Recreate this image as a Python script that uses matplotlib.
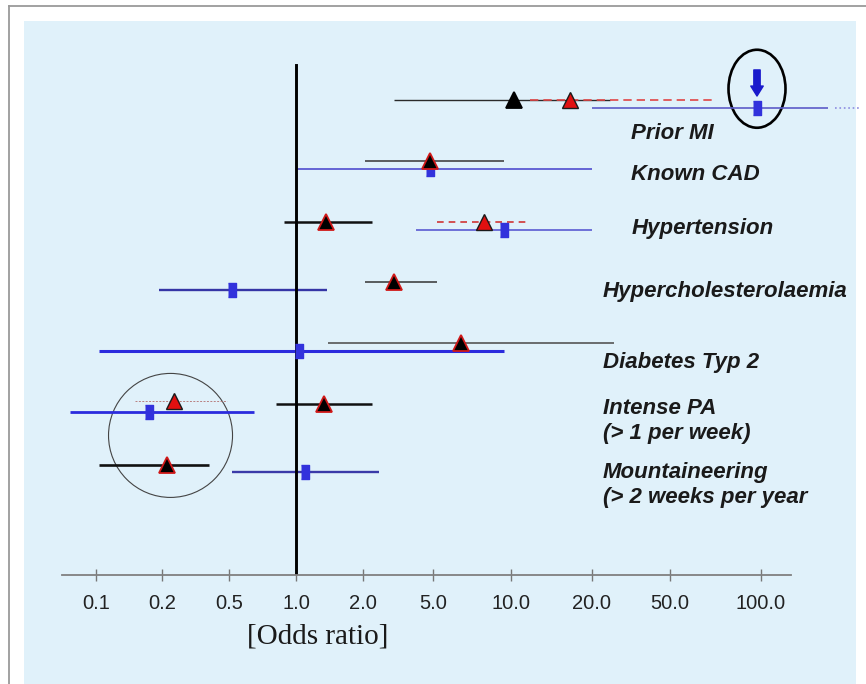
import numpy as np
import matplotlib
matplotlib.use("Agg")
import matplotlib.pyplot as plt
from matplotlib import font_manager, transforms
from matplotlib.patches import Rectangle, Ellipse, Circle
from matplotlib.lines import Line2D
from matplotlib.ticker import NullLocator

# rows, top to bottom
categories = ["Prior MI", "Known CAD", "Hypertension", "Hypercholesterolaemia",
              "Diabetes Typ 2", "Intense PA\n(> 1 per week)",
              "Mountaineering\n(> 2 weeks per year"]

# black series (odds ratio, 95% CI)
black_or = [10.3, 4.8, 1.36, 3.0, 6.4, 1.34, 0.214]
black_lo = [3.0, 2.05, 0.88, 2.05, 1.39, 0.81, 0.103]
black_hi = [24.7, 9.4, 2.25, 5.2, 25.9, 2.25, 0.38]

# red series (dashed)
nan = np.nan
red_or = [16.6, nan, 7.9, nan, nan, 0.236, nan]
red_lo = [11.8, nan, 5.2, nan, nan, 0.151, nan]
red_hi = [70.0, nan, 11.6, nan, nan, 0.486, nan]

# blue series
blue_or = [97.0, 4.8, 9.4, 0.516, 1.03, 0.175, 1.10]
blue_lo = [20.1, 1.01, 4.0, 0.194, 0.103, 0.076, 0.516]
blue_hi = [166.0, 20.1, 20.1, 1.38, 9.4, 0.647, 2.47]
blue_open_end = (176.0, 212.0)   # dotted continuation, Prior MI

tick_vals = [0.1, 0.2, 0.5, 1, 2, 5, 10, 20, 50, 100]
tick_labels = ["0.1", "0.2", "0.5", "1.0", "2.0", "5.0", "10.0", "20.0", "50.0", "100.0"]
# the original axis is not a true log axis, spacing of the ticks in px
tick_pos = [96, 162, 229, 296, 363, 433, 511, 592, 670, 761]

# styles per row
black_style = [("#2a2a2a", 1.0), ("#444444", 1.2), ("#111111", 1.8), ("#333333", 1.1),
               ("#555555", 1.2), ("#111111", 1.8), ("#111111", 1.9)]
blue_style = [("#5c5cc8", 1.2), ("#5a5ad2", 1.3), ("#5a5ad2", 1.2), ("#3535a5", 1.7),
              ("#2b2bdd", 2.2), ("#2b2bdd", 2.0), ("#3a3aa8", 1.7)]
red_style = [("#e04545", 1.2, (5, 3)), None, ("#d03535", 1.2, (4, 3)), None, None,
             ("#b88080", 0.7, (2, 1.5)), None]
red_dy = [0, 0, 0, 0, 0, -0.05, 0]
blue_dy = 0.13
label_x = [0.781, 0.781, 0.781, 0.742, 0.742, 0.742, 0.742]
label_dy = [0.55, 0.22, 0.11, 0.15, 0.32, 0.29, 0.34]

names = {f.name for f in font_manager.fontManager.ttflist}
narrow = "Liberation Sans Narrow" in names
tick_font = ["Liberation Sans Narrow"] if narrow else ["Liberation Sans"]
tick_size = 15.5 if narrow else 14.5

# scale: piecewise log, matching the original tick spacing
la = np.log10(tick_vals)
pa = np.array(tick_pos, dtype=float)
s0 = (pa[1] - pa[0]) / (la[1] - la[0])
s1 = (pa[-1] - pa[-2]) / (la[-1] - la[-2])
la = np.concatenate([[-4], la, [5]])
pa = np.concatenate([[pa[0] - s0 * (la[1] + 4)], pa, [pa[-1] + s1 * (5 - la[-2])]])


def fwd(x):
    x = np.asarray(x, dtype=float)
    return np.interp(np.log10(np.clip(x, 1e-12, None)), la, pa)


def inv(p):
    return 10 ** np.interp(np.asarray(p, dtype=float), pa, la)


W, H = 866, 684
fig = plt.figure(figsize=(W / 100, H / 100), dpi=100)
fig.patch.set_facecolor("white")
fig.patches.append(Rectangle((24 / W, 0), (856 - 24) / W, (H - 21) / H,
                             transform=fig.transFigure, facecolor="#e0f1fa",
                             edgecolor="none", zorder=-10))
fig.add_artist(Line2D([9 / W, 1], [1 - 6 / H] * 2, transform=fig.transFigure,
                      color="#9a9a9a", lw=1.3, zorder=-5))
fig.add_artist(Line2D([9 / W] * 2, [0, 1 - 6 / H], transform=fig.transFigure,
                      color="#9a9a9a", lw=1.3, zorder=-5))

ax = fig.add_axes([62 / W, (H - 575) / H, (791 - 62) / W, (575 - 21) / H])
ax.set_facecolor("none")
ax.set_xscale("function", functions=(fwd, inv))
ax.set_xlim(inv(62), inv(791))
ax.set_ylim(7.819, -1.306)

ax.axvline(1.0, ymin=0, ymax=(575 - 65) / (575 - 21), color="black", lw=2.1, zorder=2.5)

rect = [(-0.25, -0.5), (0.25, -0.5), (0.25, 0.5), (-0.25, 0.5)]
for i in range(len(categories)):
    c, lw = black_style[i]
    ax.plot([black_lo[i], black_hi[i]], [i, i], color=c, lw=lw, zorder=2,
            solid_capstyle="butt", clip_on=False)
    c, lw = blue_style[i]
    yb = i + blue_dy
    ax.plot([blue_lo[i], blue_hi[i]], [yb, yb], color=c, lw=lw, zorder=2,
            solid_capstyle="butt", clip_on=False)
    ax.plot(blue_or[i], yb, marker=rect, ms=10.5, color="#3232dc", mec="#3232dc",
            zorder=3, clip_on=False)
    if red_style[i] is not None:
        c, lw, dash = red_style[i]
        yr = i + red_dy[i]
        ax.plot([red_lo[i], red_hi[i]], [yr, yr], color=c, lw=lw, dashes=dash, zorder=2.2)
    # triangles
    fc, ec = ("black", "black") if i == 0 else ("black", "#d01818")
    ax.plot(black_or[i], i, marker="^", ms=11, mfc=fc, mec=ec, mew=1.3, zorder=4)
    if not np.isnan(red_or[i]):
        ax.plot(red_or[i], i + red_dy[i], marker="^", ms=11, mfc="#e01010",
                mec="#1a1a1a", mew=1.0, zorder=4)
    ax.text(label_x[i], i + label_dy[i], categories[i], transform=ax.get_yaxis_transform(),
            ha="left", va="center", fontsize=16, fontweight="bold", fontstyle="italic",
            family="Liberation Sans", color="#1a1a1a", linespacing=1.25, clip_on=False)

# open-ended CI of Prior MI (blue)
ax.plot(list(blue_open_end), [blue_dy, blue_dy], color="#8c8ce0", lw=1.2, ls=":",
        clip_on=False)

# arrow + ellipse at Prior MI
ax.annotate("", xy=(blue_or[0], -0.07), xytext=(blue_or[0], -0.5),
            arrowprops=dict(arrowstyle="simple,head_length=0.6,head_width=0.75,tail_width=0.38",
                            color="#1a1acc", shrinkA=0, shrinkB=0, mutation_scale=12))
ell_tr = fig.dpi_scale_trans + transforms.ScaledTranslation(blue_or[0], -0.19, ax.transData)
ax.add_patch(Ellipse((0, 0), 0.57, 0.78, transform=ell_tr, fill=False,
                     edgecolor="black", lw=1.9, clip_on=False))
# circle around the low values
cx = np.sqrt(red_or[5] * black_or[6])
circ_tr = fig.dpi_scale_trans + transforms.ScaledTranslation(cx, 5.52, ax.transData)
ax.add_patch(Circle((0, 0), 0.62, transform=circ_tr, fill=False,
                    edgecolor="#444444", lw=0.8, clip_on=False))

ax.set_xticks(tick_vals)
ax.set_xticklabels(tick_labels, family=tick_font, fontsize=tick_size, color="#222222")
ax.xaxis.set_minor_locator(NullLocator())
ax.tick_params(axis="x", direction="inout", length=9, width=1.0, color="#777777", pad=9)
ax.yaxis.set_visible(False)
for s in ["top", "left", "right"]:
    ax.spines[s].set_visible(False)
ax.spines["bottom"].set_color("#808080")
ax.spines["bottom"].set_linewidth(1.3)

fig.text(318 / W, 1 - 637 / H, "[Odds ratio]", ha="center", va="center",
         family="Liberation Serif", fontsize=21, color="#1a1a1a")

fig.savefig("out.png", dpi=100)
